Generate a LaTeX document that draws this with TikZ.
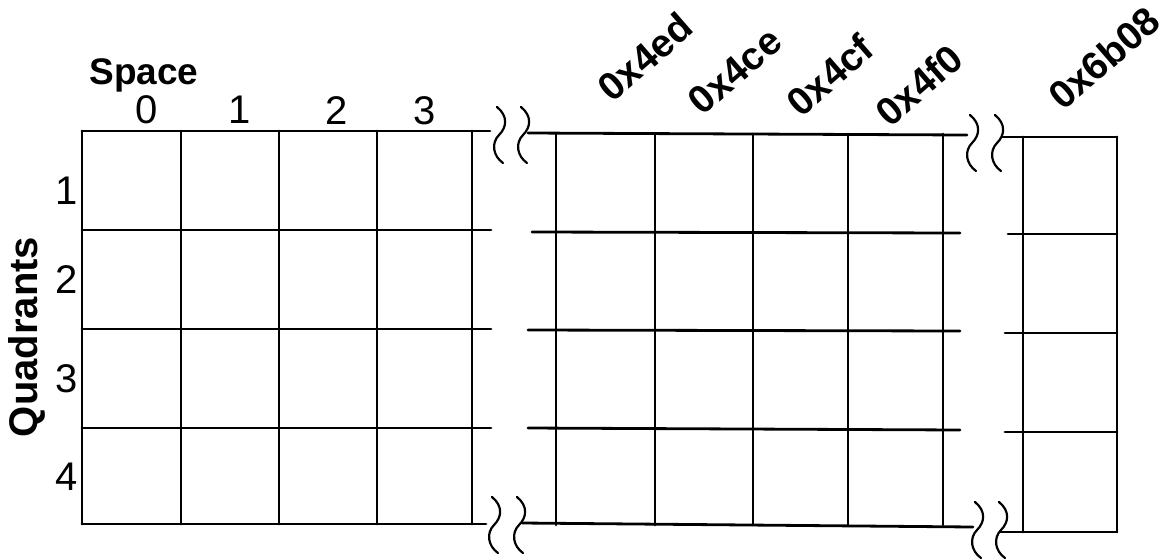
\documentclass[tikz,border=0pt]{standalone}
\usepackage{fontspec}
\setmainfont{Liberation Sans}
\begin{document}
\begin{tikzpicture}[x=1pt,y=-1pt,
  grid/.style={line width=2.8pt,line cap=round},
  brkline/.style={line width=2.2pt,line cap=round},
  brk/.pic={\draw[brkline] (0,0) .. controls (11,9) and (10,20) .. (2,28) .. controls (-6,36) and (-4,49) .. (6,56);},
  title/.style={font=\fontsize{37}{40}\selectfont\bfseries,inner sep=0pt},
  num/.style={font=\fontsize{40}{44}\selectfont,inner sep=0pt,anchor=base},
  hex/.style={font=\fontsize{39}{42}\selectfont\bfseries,inner sep=0pt,rotate=41}]
\useasboundingbox (0,0) rectangle (1168,558);
% left section
\draw[grid] (82,131) -- (490,131);
\foreach \y in {230,329,428} \draw[grid] (82,\y) -- (491,\y);
\draw[grid] (82,524) -- (486,524);
\foreach \x in {82,181,279,377,472} \draw[grid] (\x,131) -- (\x,524);
% middle section
\draw[grid] (528,133) -- (967,135);
\draw[grid] (532,232) -- (960,233);
\draw[grid] (528,330) -- (960,331);
\draw[grid] (528,428) -- (960,430);
\draw[grid] (522,523) -- (973,527);
\foreach \x in {556,655,753,848,943} \draw[grid] (\x,134) -- (\x,525);
% right section
\draw[grid] (1002,137) -- (1117,137);
\draw[grid] (1008,234) -- (1117,234);
\draw[grid] (1005,333) -- (1117,333);
\draw[grid] (1005,432) -- (1117,432);
\draw[grid] (1000,532) -- (1117,532);
\foreach \x in {1023,1117} \draw[grid] (\x,137) -- (\x,532);
% breaks
\pic at (497,107) {brk};
\pic at (521,107) {brk};
\pic at (492,497) {brk};
\pic at (517,497) {brk};
\pic at (970,115) {brk};
\pic at (995,115) {brk};
\pic at (975,502) {brk};
\pic at (999,502) {brk};
% labels
\node[title] (space) at (144,75) {Space};
\node[title,font=\fontsize{40}{44}\selectfont\bfseries,rotate=90] (quad) at (27,337) {Quadrants};
\node[num] (c0) at (147,123) {0};
\node[num] (c1) at (240,123) {1};
\node[num] (c2) at (337,124) {2};
\node[num] (c3) at (425,124) {3};
\node[num] (r1) at (67,204) {1};
\node[num] (r2) at (67,293) {2};
\node[num] (r3) at (67,392) {3};
\node[num] (r4) at (67,490) {4};
\node[hex] (h1) at (645,57) {0x4ed};
\node[hex] (h2) at (735,71) {0x4ce};
\node[hex] (h3) at (830,75) {0x4cf};
\node[hex] (h4) at (919,85) {0x4f0};
\node[hex] (h5) at (1104,58) {0x6b08};
\end{tikzpicture}
\end{document}
